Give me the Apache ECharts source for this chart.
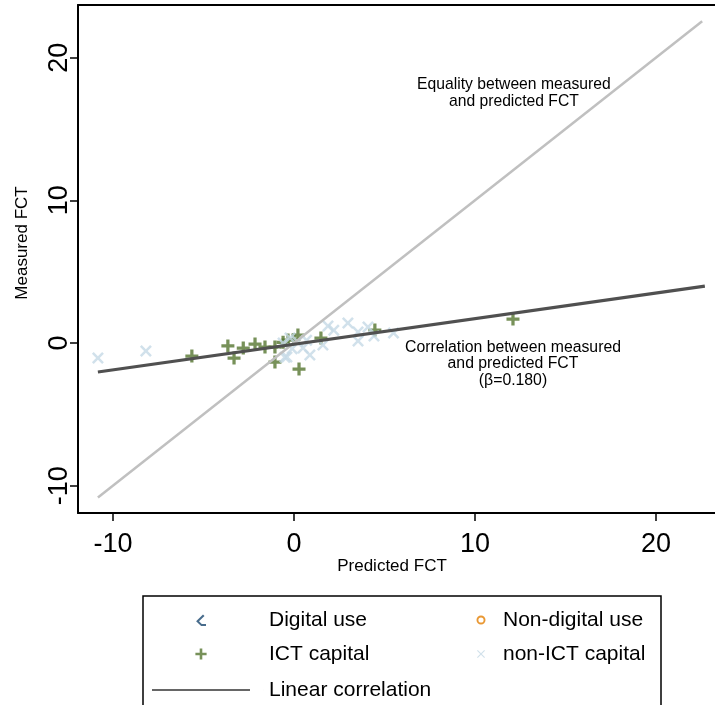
<!DOCTYPE html>
<html>
<head>
<meta charset="utf-8">
<script src="https://cdn.jsdelivr.net/npm/echarts@6/dist/echarts.min.js"></script>
<style>
html,body{margin:0;padding:0;background:#fff;}
#chart{width:715px;height:705px;}
</style>
</head>
<body>
<div id="chart"></div>
<script>
// ---- data ----
var xTicks = [-10, 0, 10, 20];
var yTicks = [-10, 0, 10, 20];

var digitalX = [];
var digitalY = [];
var nonDigitalX = [];
var nonDigitalY = [];

var ictX = [-5.64, -3.65, -3.31, -2.80, -2.15, -1.60, -1.05, -1.05, -0.33, 0.22, 1.49, 0.28, 4.47, 12.10, -0.60, 0.00];
var ictY = [-0.91, -0.20, -1.05, -0.35, -0.07, -0.28, -0.28, -1.33, 0.21, 0.56, 0.35, -1.82, 0.91, 1.68, 0.05, 0.25];

var nonIctX = [-10.83, -8.18, 1.88, 2.98, 3.54, 4.09, 4.42, 5.50, 1.60, 0.88, 0.50, -0.50, -0.22, -0.60, 3.54, -0.39, 0.20, -0.10, 2.20, 0.70];
var nonIctY = [-1.05, -0.56, 1.19, 1.40, 0.77, 1.12, 0.49, 0.70, -0.14, -0.84, -0.35, -1.00, 0.35, 0.00, 0.14, -0.98, 0.10, -0.40, 0.90, 0.20];

var eqX = [-10.83, 22.55];
var eqY = [-10.83, 22.55];
var corrX = [-10.83, 22.70];
var corrY = [-2.03, 3.99];

var eqLabel = "Equality between measured\nand predicted FCT";
var corrLabel = "Correlation between measured\nand predicted FCT\n(\u03b2=0.180)";

function pairs(xs, ys){ return xs.map(function(x,i){ return [x, ys[i]]; }); }

var FONT = "Liberation Sans, Arial, sans-serif";
var PLUS = 'path://M4.5,0H7.5V4.5H12V7.5H7.5V12H4.5V7.5H0V4.5H4.5Z';
var CROSS = 'path://M1.8,0L6,4.2L10.2,0L12,1.8L7.8,6L12,10.2L10.2,12L6,7.8L1.8,12L0,10.2L4.2,6L0,1.8Z';
var CHEV = 'path://M7,0L8.3,1.3L2.8,6.8L5.8,9.8H10V11.6H5L0.2,6.8Z';

// legend icons: padded bounding boxes so the symbol sits apart from the text
var BOXA = 'M0,0H0.01V0.01H0Z M113.99,11.99H114V12H113.99Z ';
var BOXB = 'M0,0H0.01V0.01H0Z M27.99,8.99H28V9H27.99Z ';
var LEG_CHEV = 'path://' + BOXA + 'M53,0.5L54.5,2L49,7.3L51.8,10.1H56V12H51.1L46.1,7.3Z';
var LEG_PLUS = 'path://' + BOXA + 'M49.7,0.4H52.3V4.7H56.6V7.3H52.3V11.6H49.7V7.3H45.4V4.7H49.7Z';
var LEG_RING = 'path://' + BOXB + 'M6.5,4.5A4.5,4.5 0 1,0 15.5,4.5A4.5,4.5 0 1,0 6.5,4.5Z M8.4,4.5A2.6,2.6 0 1,1 13.6,4.5A2.6,2.6 0 1,1 8.4,4.5Z';
var LEG_CROSS = 'path://' + BOXB + 'M7.8,0.5L11,3.7L14.2,0.5L15,1.3L11.8,4.5L15,7.7L14.2,8.5L11,5.3L7.8,8.5L7,7.7L10.2,4.5L7,1.3Z';
var LEG_LINE = 'path://M0,0H98V2H0Z M111.99,0H112V2H111.99Z';

var chart = echarts.init(document.getElementById('chart'), null, {renderer:'canvas'});

var xMin = -11.93, xMax = 23.26, yMin = -11.91, yMax = 23.69;

function legendItem(name, left, top, w, h, icon){
  return {
    data: [name], left: left, top: top, orient: 'horizontal', padding: 0,
    itemWidth: w, itemHeight: h, itemGap: 0, symbolKeepAspect: false, icon: icon,
    selectedMode: false,
    itemStyle: {borderWidth: 0},
    textStyle: {fontFamily: FONT, fontSize: 21, color: '#000', lineHeight: 24}
  };
}

var option = {
  animation: false,
  backgroundColor: '#fff',
  grid: {left: 78, top: 5, right: 0, bottom: 192, show: false},
  xAxis: [{
    type: 'value', min: xMin, max: xMax, position: 'bottom',
    axisLine: {show: true, onZero: false, lineStyle: {color: '#000', width: 2}},
    axisTick: {show: true, length: 8, inside: false, customValues: xTicks, lineStyle: {color: '#000', width: 1.5}},
    axisLabel: {show: true, customValues: xTicks, margin: 18, fontFamily: FONT, fontSize: 27, color: '#000'},
    splitLine: {show: false}
  }, {
    type: 'value', min: xMin, max: xMax, position: 'top',
    axisLine: {show: true, onZero: false, lineStyle: {color: '#000', width: 2}},
    axisTick: {show: false}, axisLabel: {show: false}, splitLine: {show: false}
  }],
  yAxis: {
    type: 'value', min: yMin, max: yMax,
    axisLine: {show: true, onZero: false, lineStyle: {color: '#000', width: 2}},
    axisTick: {show: true, length: 8, inside: false, customValues: yTicks, lineStyle: {color: '#000', width: 1.5}},
    axisLabel: {show: true, customValues: yTicks, rotate: 90, margin: 5, fontFamily: FONT, fontSize: 27, color: '#000'},
    splitLine: {show: false}
  },
  legend: [
    legendItem('Digital use', 150, 608, 114, 12, LEG_CHEV),
    legendItem('Non-digital use', 470, 608, 28, 9, LEG_RING),
    legendItem('ICT capital', 150, 642, 114, 12, LEG_PLUS),
    legendItem('non-ICT capital', 470, 642, 28, 9, LEG_CROSS),
    legendItem('Linear correlation', 152, 678, 112, 2, LEG_LINE)
  ],
  series: [
    {name: 'Digital use', type: 'scatter', data: pairs(digitalX, digitalY), symbol: CHEV, symbolSize: 12,
     itemStyle: {color: '#1a476f'}, z: 2},
    {name: 'Non-digital use', type: 'scatter', data: pairs(nonDigitalX, nonDigitalY), symbol: 'emptyCircle', symbolSize: 8,
     itemStyle: {color: '#e37e00', borderColor: '#e37e00', borderWidth: 2}, z: 2},
    {name: 'ICT capital', type: 'scatter', data: pairs(ictX, ictY), symbol: PLUS, symbolSize: 13,
     itemStyle: {color: '#55752f'}, z: 2},
    {name: 'non-ICT capital', type: 'scatter', data: pairs(nonIctX, nonIctY), symbol: CROSS, symbolSize: 12,
     itemStyle: {color: '#c6dae6'}, z: 3},
    {name: 'Equality', type: 'line', data: pairs(eqX, eqY), symbol: 'none', z: 4,
     lineStyle: {color: '#c0c0c0', width: 2.5}, itemStyle: {color: '#c0c0c0'}},
    {name: 'Linear correlation', type: 'line', data: pairs(corrX, corrY), symbol: 'none', z: 5,
     lineStyle: {color: '#505050', width: 3.2}, itemStyle: {color: '#666666'}}
  ]
};
chart.setOption(option);

var pEq = chart.convertToPixel({gridIndex: 0}, [12.15, 17.52]);
var pCorr = chart.convertToPixel({gridIndex: 0}, [12.10, -1.47]);

chart.setOption({
  graphic: [
    {type: 'text', x: pEq[0], y: pEq[1], z: 10,
     style: {text: eqLabel, fontFamily: FONT, fontSize: 15.7, lineHeight: 16.5, fill: '#000', align: 'center', verticalAlign: 'middle'}},
    {type: 'text', x: pCorr[0], y: pCorr[1], z: 10,
     style: {text: corrLabel, fontFamily: FONT, fontSize: 15.8, lineHeight: 16.5, fill: '#000', align: 'center', verticalAlign: 'middle'}},
    {type: 'text', x: 22, y: 243, rotation: Math.PI/2, z: 10,
     style: {text: 'Measured FCT', fontFamily: FONT, fontSize: 17, fill: '#000', align: 'center', verticalAlign: 'middle'}},
    {type: 'text', x: 392, y: 566, z: 10,
     style: {text: 'Predicted FCT', fontFamily: FONT, fontSize: 17, fill: '#000', align: 'center', verticalAlign: 'middle'}},
    {type: 'rect', shape: {x: 143, y: 596, width: 518, height: 130}, z: 0,
     style: {fill: 'none', stroke: '#000', lineWidth: 1.5}}
  ]
});
</script>
</body>
</html>
